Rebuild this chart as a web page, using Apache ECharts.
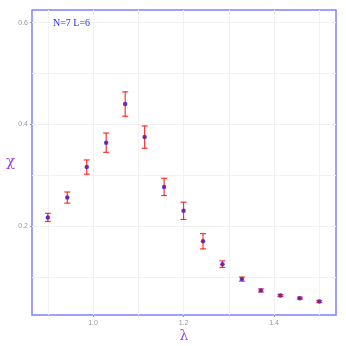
<!DOCTYPE html>
<html>
<head>
<meta charset="utf-8">
<script src="https://cdn.jsdelivr.net/npm/echarts@6/dist/echarts.min.js"></script>
<style>html,body{margin:0;padding:0;background:#fff}#c{width:346px;height:346px}</style>
</head>
<body>
<div id="c"></div>
<script>
const lambda = [0.9, 0.943, 0.986, 1.029, 1.071, 1.114, 1.157, 1.2, 1.243, 1.286, 1.329, 1.371, 1.414, 1.457, 1.5];
const chi    = [0.217, 0.256, 0.316, 0.364, 0.440, 0.375, 0.277, 0.230, 0.170, 0.125, 0.0956, 0.0733, 0.0634, 0.0581, 0.0516];
const chiErr = [0.008, 0.011, 0.014, 0.019, 0.024, 0.022, 0.017, 0.017, 0.015, 0.0065, 0.004, 0.003, 0.002, 0.002, 0.002];
const xTicks = [1.0, 1.2, 1.4];
const yTicks = [0.2, 0.4, 0.6];
const xGrid = [0.9, 1.0, 1.1, 1.2, 1.3, 1.4, 1.5];
const yGrid = [0.1, 0.2, 0.3, 0.4, 0.5, 0.6];
const annotation = 'N=7 L=6';

const chart = echarts.init(document.getElementById('c'), null, {renderer: 'canvas'});
const errData = lambda.map((x, i) => [x, chi[i] - chiErr[i], chi[i] + chiErr[i]]);
const ptData = lambda.map((x, i) => [x, chi[i]]);
const gridLines = xGrid.map(v => ({xAxis: v})).concat(yGrid.map(v => ({yAxis: v})));

chart.setOption({
  animation: false,
  grid: {left: 32, right: 10, top: 10, bottom: 31, outerBoundsMode: 'none', containLabel: false,
         show: true, borderColor: '#8080ff', borderWidth: 1.5, backgroundColor: 'transparent'},
  xAxis: {
    type: 'value', min: 0.865, max: 1.537,
    name: 'λ', nameLocation: 'middle', nameGap: 14, nameMoveOverlap: false,
    nameTextStyle: {color: '#a040f0', fontSize: 14, fontFamily: 'DejaVu Serif'},
    axisLine: {show: false},
    splitLine: {show: false},
    axisTick: {show: true, customValues: xTicks, length: 2, lineStyle: {color: '#999'}},
    axisLabel: {customValues: xTicks, color: '#999', fontSize: 7, margin: 5, fontFamily: 'Liberation Sans', formatter: v => v.toFixed(1)}
  },
  yAxis: {
    type: 'value', min: 0.025, max: 0.625,
    name: 'χ', nameLocation: 'middle', nameGap: 17, nameRotate: 0, nameMoveOverlap: false,
    nameTextStyle: {color: '#a040f0', fontSize: 15, fontFamily: 'DejaVu Serif'},
    axisLine: {show: false},
    splitLine: {show: false},
    axisTick: {show: true, customValues: yTicks, length: 2, lineStyle: {color: '#999'}},
    axisLabel: {customValues: yTicks, color: '#999', fontSize: 7, margin: 4, fontFamily: 'Liberation Sans', formatter: v => v.toFixed(1)}
  },
  graphic: [{
    type: 'text', left: 53, top: 18, z: 10,
    style: {text: annotation, fill: '#2a2aff', font: '10px "Liberation Serif", serif'}
  }],
  series: [
    {
      type: 'line', data: [], silent: true, z: 0, zlevel: 0,
      markLine: {
        silent: true, symbol: ['none', 'none'], label: {show: false}, z: 0,
        lineStyle: {color: '#f2f2f2', width: 1, type: 'solid'},
        data: gridLines
      }
    },
    {
      type: 'custom', z: 3,
      renderItem: function (params, api) {
        const x = api.value(0);
        const lo = api.coord([x, api.value(1)]);
        const hi = api.coord([x, api.value(2)]);
        const w = 3;
        const style = {stroke: 'rgba(255,0,0,0.8)', lineWidth: 1.2};
        return {
          type: 'group',
          children: [
            {type: 'line', shape: {x1: lo[0], y1: lo[1], x2: hi[0], y2: hi[1]}, style: style},
            {type: 'line', shape: {x1: lo[0] - w, y1: lo[1], x2: lo[0] + w, y2: lo[1]}, style: style},
            {type: 'line', shape: {x1: hi[0] - w, y1: hi[1], x2: hi[0] + w, y2: hi[1]}, style: style}
          ]
        };
      },
      encode: {x: 0, y: [1, 2]},
      data: errData
    },
    {
      type: 'scatter', z: 4, symbol: 'circle', symbolSize: 4.5,
      itemStyle: {color: '#3333ee', opacity: 0.9},
      data: ptData
    },
    {
      type: 'scatter', z: 5, symbol: 'circle', symbolSize: 2.5,
      itemStyle: {color: '#dd0022'},
      data: ptData
    }
  ]
});
</script>
</body>
</html>
